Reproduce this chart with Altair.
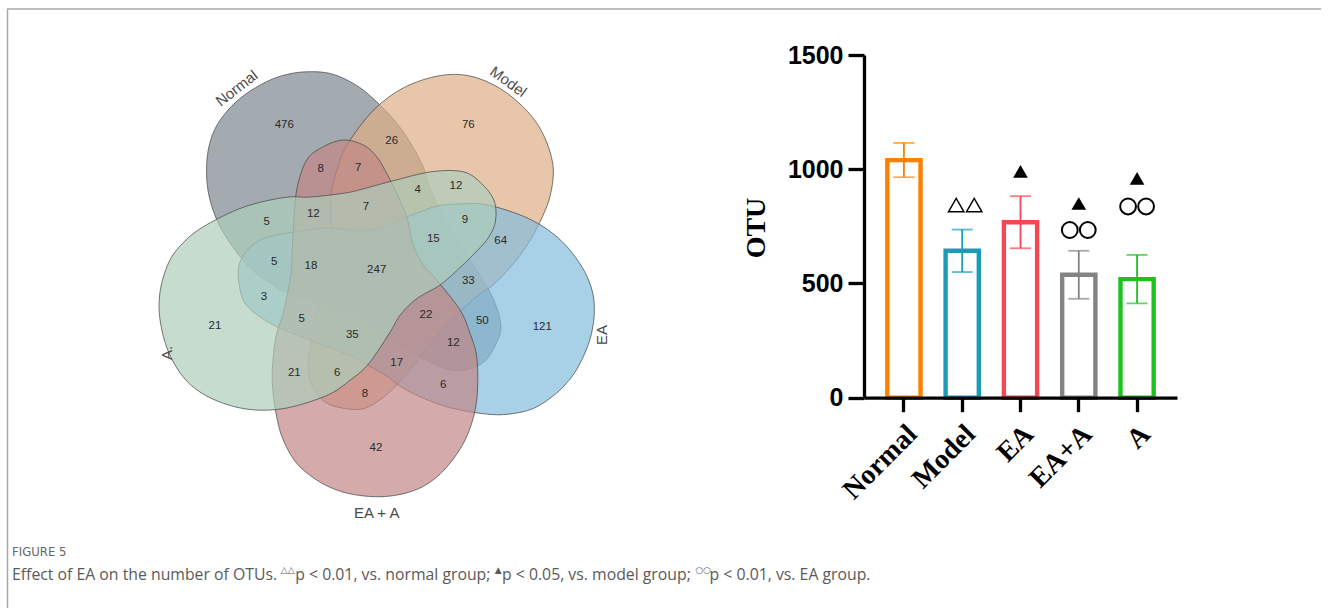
import math
import altair as alt
import pandas as pd

W, H = 1329, 608

# ---------------- Venn diagram data ----------------
set_names = ["Normal", "Model", "EA", "EA + A", "A."]
set_colors = ["#7e888e", "#deae86", "#83bcdb", "#c28686", "#accdba"]
set_angles = [234, 306, 18, 90, 162]          # direction of each set's main lobe (deg)
set_label_x = [236.7, 508.3, 602.3, 376.7, 166.5]
set_label_y = [88.3, 81.7, 335.0, 513.3, 353.0]
set_label_angle = [322, 36, 270, 0, 270]
draw_order = ["Normal", "Model", "EA", "EA + A", "A."]

region_counts = [476, 76, 26, 8, 7, 4, 12, 5, 12, 7, 9, 15, 64, 5, 18, 247,
                 33, 3, 21, 5, 35, 22, 50, 121, 12, 17, 21, 6, 6, 8, 42]
region_x = [284.3, 468.3, 391.7, 320.7, 358.3, 417.7, 456.0, 266.7, 313.3, 366.0,
            465.0, 433.3, 500.7, 274.3, 311.0, 376.7, 468.3, 264.0, 215.0, 301.7,
            352.3, 426.0, 482.3, 542.3, 453.3, 396.7, 294.3, 337.3, 443.3, 365.0, 376.0]
region_y = [125.0, 125.0, 140.7, 169.3, 167.7, 190.0, 185.7, 221.7, 214.0, 207.3,
            220.0, 239.0, 241.0, 261.7, 265.7, 270.0, 280.7, 296.7, 326.0, 319.3,
            335.3, 315.3, 321.0, 326.7, 343.3, 362.7, 372.7, 372.7, 385.0, 394.0, 448.3]

# Outline of one set (lobe pointing down), relative to the diagram centre
VENN_CX, VENN_CY = 377.0, 274.0
base_outline = [
    (-33.7, -134), (-13.7, -129), (-0.3, -117.3), (9.7, -100.7), (20, -80), (29.7, -57.3),
    (34.7, -34), (39.7, -20.7), (48, -7), (59.7, 6), (83, 36), (93, 59.3), (99.7, 82.7),
    (100.5, 116), (97, 141), (89, 164), (77, 184), (62, 201), (45, 213), (25, 220),
    (3, 222.7), (-20.3, 221), (-40.3, 216), (-60.3, 206), (-80.3, 189.3), (-93.7, 166),
    (-100.3, 142.7), (-104.5, 112), (-104, 85), (-100.3, 59.3), (-93.7, 39.3), (-87, 6),
    (-85.3, -10.7), (-83.7, -44), (-80.3, -84), (-70.3, -114), (-53.7, -127.3),
]


def catmull_closed(pts, n=10):
    out = []
    N = len(pts)
    for i in range(N):
        p0, p1, p2, p3 = pts[(i - 1) % N], pts[i], pts[(i + 1) % N], pts[(i + 2) % N]
        for k in range(n):
            t = k / n
            t2, t3 = t * t, t * t * t
            xy = []
            for d in range(2):
                xy.append(0.5 * (2 * p1[d] + (-p0[d] + p2[d]) * t
                                 + (2 * p0[d] - 5 * p1[d] + 4 * p2[d] - p3[d]) * t2
                                 + (-p0[d] + 3 * p1[d] - 3 * p2[d] + p3[d]) * t3))
            out.append(xy)
    out.append(out[0])
    return out


smooth = catmull_closed(base_outline)
features = []
for name in draw_order:
    i = set_names.index(name)
    phi = math.radians(set_angles[i] - 90)
    c, s = math.cos(phi), math.sin(phi)
    ring = [[round(VENN_CX + x * c - y * s, 2), round(VENN_CY + x * s + y * c, 2)] for x, y in smooth]
    features.append({"type": "Feature", "properties": {"name": name},
                     "geometry": {"type": "Polygon", "coordinates": [ring]}})

proj = dict(type="identity", scale=1, translate=[0, 0])

venn_shapes = alt.Chart(alt.Data(values=features)).mark_geoshape(
    fillOpacity=0.7, stroke="#4a4a4a", strokeWidth=0.9, strokeOpacity=0.85
).encode(
    fill=alt.Fill("properties.name:N", scale=alt.Scale(domain=set_names, range=set_colors), legend=None)
).project(**proj)

regions_df = pd.DataFrame({"n": region_counts, "lon": region_x, "lat": region_y})
venn_nums = alt.Chart(regions_df).mark_text(
    font="Liberation Sans", fontSize=11.5, color="#2a2a2a"
).encode(longitude="lon:Q", latitude="lat:Q", text="n:N").project(**proj)

names_df = pd.DataFrame({"name": set_names, "lon": set_label_x, "lat": set_label_y, "ang": set_label_angle})
venn_names = alt.Chart(names_df).mark_text(
    font="Liberation Sans", fontSize=15, color="#4a4a4a"
).encode(longitude="lon:Q", latitude="lat:Q", text="name:N",
         angle=alt.Angle("ang:Q", scale=None)).project(**proj)

# ---------------- Bar chart data ----------------
groups = ["Normal", "Model", "EA", "EA+A", "A"]
otu_mean = [1040, 643, 768, 538, 519]
otu_sem = [75, 93, 114, 105, 106]
bar_colors = ["#ff8000", "#1a9bb6", "#f5474f", "#838383", "#1ec21e"]

bars_df = pd.DataFrame({"group": groups, "mean": otu_mean, "sem": otu_sem})
bars_df["lo"] = bars_df["mean"] - bars_df["sem"]
bars_df["hi"] = bars_df["mean"] + bars_df["sem"]

# significance marks: group, symbol, level (OTU units)
sig_group = ["Model", "EA", "EA+A", "EA+A", "A", "A"]
sig_symbol = ["open_tri_pair", "filled_tri", "filled_tri", "circle_pair", "filled_tri", "circle_pair"]
sig_level = [843, 991, 850, 734, 960, 837]
sig_df = pd.DataFrame({"group": sig_group, "sym": sig_symbol, "level": sig_level})

x_scale = alt.Scale(domain=groups, range=[864, 1177], paddingInner=0.43, paddingOuter=0.40)
y_scale = alt.Scale(domain=[0, 1500], range=[397.7, 55], nice=False, zero=False)
col_scale = alt.Scale(domain=groups, range=bar_colors)

x_axis = alt.Axis(offset=-(H - 397.7), tickSize=14, tickWidth=3.3, domainWidth=3.3,
                  domainColor="black", tickColor="black", labelAngle=-45,
                  labelAlign="right", labelBaseline="middle", labelPadding=18, labelOffset=9,
                  labelFont="Liberation Serif", labelFontWeight="bold", labelFontSize=28,
                  labelColor="black", title=None, grid=False, zindex=1)
y_axis = alt.Axis(offset=-864, values=[0, 500, 1000, 1500], format="d", tickSize=16, tickWidth=3.3,
                  domainWidth=3.3, domainColor="black", tickColor="black", labelPadding=5,
                  labelFont="Liberation Sans", labelFontWeight="bold", labelFontSize=25,
                  labelColor="black", title=None, grid=False, zindex=1)

X = alt.X("group:N", scale=x_scale, axis=x_axis, sort=groups)
Xn = alt.X("group:N", scale=x_scale, sort=groups)

bars = alt.Chart(bars_df).mark_bar(fill="white", strokeWidth=4.4).encode(
    x=X,
    y=alt.Y("mean:Q", scale=y_scale, axis=y_axis),
    stroke=alt.Stroke("group:N", scale=col_scale, legend=None),
)
err = alt.Chart(bars_df).mark_rule(strokeWidth=1.8).encode(
    x=Xn, y=alt.Y("lo:Q", scale=y_scale), y2="hi:Q",
    color=alt.Color("group:N", scale=col_scale, legend=None),
)
caps_hi = alt.Chart(bars_df).mark_tick(thickness=1.8, size=21).encode(
    x=Xn, y=alt.Y("hi:Q", scale=y_scale), color=alt.Color("group:N", scale=col_scale, legend=None))
caps_lo = alt.Chart(bars_df).mark_tick(thickness=1.8, size=21).encode(
    x=Xn, y=alt.Y("lo:Q", scale=y_scale), color=alt.Color("group:N", scale=col_scale, legend=None))

sig_base = alt.Chart(sig_df)
enc = dict(x=Xn, y=alt.Y("level:Q", scale=y_scale))
tri_filled = sig_base.transform_filter(alt.datum.sym == "filled_tri").mark_point(
    shape="triangle-up", filled=True, size=215, color="black", opacity=1).encode(**enc)
tri_open_l = sig_base.transform_filter(alt.datum.sym == "open_tri_pair").mark_point(
    shape="triangle-up", filled=False, size=240, color="black", strokeWidth=1.4,
    opacity=1, xOffset=-6).encode(**enc)
tri_open_r = sig_base.transform_filter(alt.datum.sym == "open_tri_pair").mark_point(
    shape="triangle-up", filled=False, size=240, color="black", strokeWidth=1.4,
    opacity=1, xOffset=12).encode(**enc)
circ_l = sig_base.transform_filter(alt.datum.sym == "circle_pair").mark_point(
    shape="circle", filled=False, size=250, color="black", strokeWidth=2,
    opacity=1, xOffset=-9).encode(**enc)
circ_r = sig_base.transform_filter(alt.datum.sym == "circle_pair").mark_point(
    shape="circle", filled=False, size=250, color="black", strokeWidth=2,
    opacity=1, xOffset=9).encode(**enc)

one = alt.Data(values=[{"k": 1}])
otu_title = alt.Chart(one).mark_text(
    text="OTU", font="Liberation Serif", fontWeight="bold", fontSize=28, angle=270,
    color="black").encode(x=alt.value(757), y=alt.value(228))

# ---------------- frame and caption ----------------
frame_top = alt.Chart(one).mark_rule(color="#a8a8a8", strokeWidth=1.5).encode(
    x=alt.value(7), x2=alt.value(1321), y=alt.value(9))
frame_left = alt.Chart(one).mark_rule(color="#a8a8a8", strokeWidth=1.5).encode(
    x=alt.value(7.5), y=alt.value(9), y2=alt.value(H))

fig_label = alt.Chart(one).mark_text(
    text="FIGURE 5", font="DejaVu Sans Condensed", fontSize=13, color="#666666",
    align="left", baseline="alphabetic").encode(x=alt.value(12), y=alt.value(556))

# approximate Open Sans advance widths (units per em 2048) for laying out the caption
OPEN_SANS_W = {" ": 532, ".": 545, ",": 500, ";": 545, "<": 1171, "a": 1139, "b": 1255,
               "c": 975, "d": 1255, "e": 1149, "f": 694, "g": 1122, "h": 1257, "i": 518,
               "l": 518, "m": 1905, "n": 1257, "o": 1237, "p": 1255, "r": 836, "s": 977,
               "t": 723, "u": 1257, "v": 1026, "y": 1071, "A": 1296, "E": 1108, "O": 1599,
               "T": 1106, "U": 1473}


def text_width(t, size):
    return sum(OPEN_SANS_W.get(ch, 1171) for ch in t) / 2048 * size


CAP_SIZE = 15.8
SUP_SIZE = 9
cap_parts = [("Effect of EA on the number of OTUs. ", False), ("△△", True),
             ("p < 0.01, vs. normal group; ", False), ("▲", True),
             ("p < 0.05, vs. model group; ", False), ("○○", True),
             ("p < 0.01, vs. EA group.", False)]

cap_layers = []
cx = 12.0
for t, sup in cap_parts:
    if sup:
        cap_layers.append(alt.Chart(one).mark_text(
            text=t, font="DejaVu Sans", fontSize=SUP_SIZE, color="#5a5a5a", align="left",
            baseline="alphabetic").encode(x=alt.value(cx), y=alt.value(573)))
        cx += len(t) * SUP_SIZE * 0.8
    else:
        cap_layers.append(alt.Chart(one).mark_text(
            text=t, font="Open Sans", fontSize=CAP_SIZE, color="#5a5a5a", align="left",
            baseline="alphabetic").encode(x=alt.value(cx), y=alt.value(580)))
        cx += text_width(t, CAP_SIZE)

chart = alt.layer(
    frame_top, frame_left,
    venn_shapes, venn_nums, venn_names,
    bars, err, caps_hi, caps_lo,
    tri_filled, tri_open_l, tri_open_r, circ_l, circ_r,
    otu_title, fig_label, *cap_layers,
).properties(
    width=W, height=H, autosize=alt.AutoSizeParams(type="none"),
    padding={"left": 0, "top": 0, "right": 0, "bottom": 0},
    background="white",
).configure_view(strokeWidth=0)

chart.save("out.html", embed_options={"renderer": "svg", "actions": False})
